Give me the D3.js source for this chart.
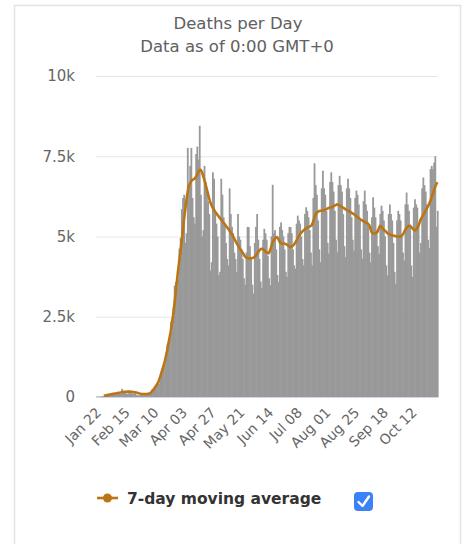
<!DOCTYPE html>
<html>
<head>
<meta charset="utf-8">
<script src="https://cdn.jsdelivr.net/npm/d3@7"></script>
<style>
    body { margin: 0; background: #fff; }
    text { font-family: "DejaVu Sans", sans-serif; }
</style>
</head>
<body>
<script>
// daily deaths, Jan 22 .. Nov 02 (2020)
const deaths = [
    17,8,16,15,24,26,26,38,43,46,
    45,57,64,66,73,73,86,89,97,108,
    97,254,121,143,142,106,98,139,115,125,
    111,100,150,71,64,37,58,67,70,53,
    69,73,84,98,106,102,227,202,272,330,
    350,440,410,560,760,780,900,1040,1350,1640,
    1710,1820,2350,2440,2790,3470,3580,3390,3680,4620,
    4950,5850,6200,6300,4800,5100,7760,6500,7200,7760,
    6200,5600,5400,7570,7800,7400,8450,6300,5000,5200,
    7200,6700,6500,6100,5700,3940,4200,7000,6800,5700,
    5400,5000,3790,3900,6800,6300,5600,5400,4800,4300,
    4100,6500,5700,5300,5100,4500,4300,3900,5700,5000,
    4900,4600,4300,3700,3500,4500,5300,5290,4700,4300,
    3500,3220,4800,5300,5700,4900,4300,3600,3390,4900,
    5240,5100,4900,4400,3700,3480,5000,6610,5100,5200,
    4600,3800,3580,5300,5440,5200,5000,4600,3900,3740,
    5100,5300,5290,5100,4600,4100,4000,5400,5650,5500,
    5400,5000,4300,4100,5700,5910,5800,5600,5200,4500,
    4100,6200,7280,6600,6300,5500,4600,4200,6500,7050,
    6500,6300,5800,4800,4470,6700,7000,6700,6400,5800,
    4900,4510,6600,6890,6600,6400,5700,4700,4360,6500,
    6800,6500,6200,5600,4900,4560,6200,6430,6300,6000,
    5500,4600,4310,6100,6430,6000,5800,5300,4500,4200,
    5600,6220,5900,5600,5200,4700,4460,5700,5960,5800,
    5500,5000,4100,3790,5700,6000,5700,5500,4800,3900,
    3530,5500,5800,5700,5500,5000,4500,4250,6000,6370,
    6000,5800,5300,4100,3740,5900,6160,6000,5900,5400,
    4500,4800,6500,6840,6600,6400,6000,4900,4650,7100,
    7200,7100,7300,7500,5300,5800
];

// 7-day moving average as drawn
const movingAvg = [
    null,null,null,null,null,null,40,45,50,58,
    66,74,82,90,98,105,112,120,128,135,
    142,150,155,160,163,165,166,166,166,165,
    164,158,150,140,130,120,110,102,96,93,
    92,92,93,96,105,125,160,205,260,310,
    365,420,510,610,730,850,980,1100,1280,1450,
    1650,1850,2050,2300,2550,2850,3200,3550,3900,4200,
    4500,4800,5150,5500,5800,6100,6350,6550,6650,6720,
    6760,6780,6800,6850,6920,7000,7060,7080,7020,6900,
    6780,6640,6500,6350,6200,6080,5980,5900,5840,5780,
    5730,5680,5630,5580,5530,5480,5440,5390,5340,5290,
    5240,5190,5140,5080,5010,4940,4870,4800,4730,4670,
    4620,4560,4500,4440,4380,4350,4330,4320,4320,4320,
    4330,4340,4360,4400,4450,4510,4560,4600,4620,4610,
    4580,4540,4510,4490,4480,4560,4680,4800,4880,4930,
    4970,4980,4920,4840,4790,4780,4780,4780,4770,4750,
    4720,4690,4670,4680,4710,4750,4800,4860,4930,5000,
    5060,5110,5150,5190,5220,5250,5270,5290,5310,5330,
    5350,5450,5580,5680,5740,5770,5790,5800,5800,5810,
    5820,5830,5850,5870,5890,5900,5910,5920,5940,5960,
    5980,6000,5990,5970,5950,5930,5900,5880,5850,5830,
    5810,5790,5770,5750,5720,5700,5670,5640,5610,5580,
    5550,5520,5500,5480,5460,5440,5420,5400,5350,5250,
    5130,5100,5100,5100,5110,5150,5250,5330,5300,5260,
    5220,5190,5150,5110,5080,5060,5050,5040,5030,5020,
    5010,5000,5000,5000,5000,5020,5060,5120,5200,5250,
    5300,5330,5340,5300,5260,5220,5190,5200,5260,5330,
    5420,5530,5600,5660,5720,5790,5860,5930,6010,6100,
    6200,6300,6420,6540,6620,6690
];

const tickLabels = ["Jan 22", "Feb 15", "Mar 10", "Apr 03", "Apr 27", "May 21",
    "Jun 14", "Jul 08", "Aug 01", "Aug 25", "Sep 18", "Oct 12"];
const yTicks = [0, 2500, 5000, 7500, 10000];
const yTickLabels = ["0", "2.5k", "5k", "7.5k", "10k"];

const width = 465,
    height = 544;
const plot = {left: 96, right: 438, top: 76, bottom: 397};
const barColor = "#999999",
    lineColor = "#bb7514";

let days = d3.timeDay.range(new Date(2020, 0, 22), new Date(2020, 10, 3));
let fmt = d3.timeFormat("%b %d");
let tickDays = days.filter(d => tickLabels.indexOf(fmt(d)) >= 0);

let svg = d3.select("body").append("svg")
    .attr("width", width)
    .attr("height", height);

// card border
svg.append("rect")
    .attr("x", 14.5).attr("y", 5.5)
    .attr("width", 446).attr("height", 600)
    .attr("fill", "none")
    .attr("stroke", "#e3e3e3")
    .attr("stroke-width", 1.5);

svg.append("text")
    .attr("x", 238).attr("y", 29)
    .attr("text-anchor", "middle")
    .attr("fill", "#606060")
    .style("font-size", "16.5px")
    .text("Deaths per Day");

svg.append("text")
    .attr("x", 237).attr("y", 52)
    .attr("text-anchor", "middle")
    .attr("fill", "#606060")
    .style("font-size", "16.5px")
    .text("Data as of 0:00 GMT+0");

let x = d3.scaleBand()
    .domain(days)
    .range([plot.left, plot.right])
    .padding(0);

let y = d3.scaleLinear()
    .domain([0, 10000])
    .range([plot.bottom, plot.top]);

// grid + y labels
let yAxis = svg.append("g")
    .attr("transform", "translate(" + plot.left + ",0)")
    .call(d3.axisLeft(y)
        .tickValues(yTicks)
        .tickSize(-(plot.right - plot.left))
        .tickPadding(21)
        .tickFormat((d, i) => yTickLabels[i]));
yAxis.select(".domain").remove();
yAxis.selectAll(".tick line")
    .attr("stroke", "#e6e6e6")
    .attr("stroke-width", 1);
yAxis.selectAll(".tick text")
    .attr("fill", "#666")
    .style("font-size", "15px");

// bars (slight overlap so neighbouring columns read as one solid fill)
svg.append("g").selectAll("rect")
    .data(days)
    .enter().append("rect")
    .attr("x", d => x(d))
    .attr("width", x.bandwidth() + 0.6)
    .attr("y", (d, i) => y(deaths[i]))
    .attr("height", (d, i) => y(0) - y(deaths[i]))
    .attr("fill", barColor);

// x axis
let xAxis = svg.append("g")
    .attr("transform", "translate(0," + plot.bottom + ")")
    .call(d3.axisBottom(x)
        .tickValues(tickDays)
        .tickSize(0)
        .tickFormat((d, i) => tickLabels[i]));
xAxis.select(".domain")
    .attr("stroke", "#ccd6eb");
xAxis.selectAll(".tick text")
    .attr("fill", "#666")
    .style("font-size", "14px")
    .attr("text-anchor", "end")
    .attr("y", 0)
    .attr("dy", "0.35em")
    .attr("transform", "translate(2,13) rotate(-45)");

// moving average line
let line = d3.line()
    .defined(d => d[1] !== null)
    .x(d => x(d[0]) + x.bandwidth() / 2)
    .y(d => y(d[1]));

svg.append("path")
    .datum(days.map((d, i) => [d, movingAvg[i]]))
    .attr("fill", "none")
    .attr("stroke", lineColor)
    .attr("stroke-width", 2.6)
    .attr("stroke-linejoin", "round")
    .attr("d", line);

// legend
let legend = svg.append("g");
legend.append("line")
    .attr("x1", 97).attr("x2", 118)
    .attr("y1", 498).attr("y2", 498)
    .attr("stroke", lineColor)
    .attr("stroke-width", 2.6);
legend.append("circle")
    .attr("cx", 107.5).attr("cy", 498)
    .attr("r", 4.5)
    .attr("fill", lineColor);
legend.append("text")
    .attr("x", 127).attr("y", 503.5)
    .attr("fill", "#333")
    .style("font-size", "15.5px")
    .style("font-weight", "bold")
    .text("7-day moving average");

legend.append("rect")
    .attr("x", 354).attr("y", 492)
    .attr("width", 19).attr("height", 19)
    .attr("rx", 4)
    .attr("fill", "#3b82f6");
legend.append("path")
    .attr("d", "M358.5,502 L362.5,506 L369,496.5")
    .attr("fill", "none")
    .attr("stroke", "#fff")
    .attr("stroke-width", 2.4)
    .attr("stroke-linecap", "round")
    .attr("stroke-linejoin", "round");
</script>
</body>
</html>
